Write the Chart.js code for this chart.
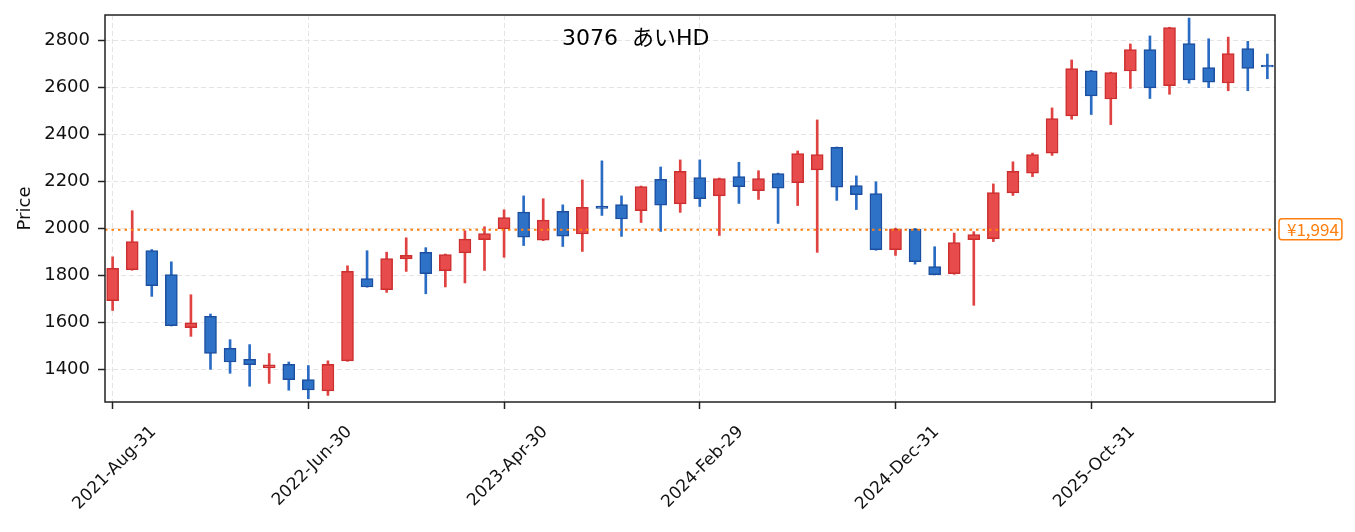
<!DOCTYPE html>
<html><head><meta charset="utf-8">
<script src="https://cdn.jsdelivr.net/npm/chart.js@4.4.1/dist/chart.umd.min.js"></script>
<style>html,body{margin:0;padding:0;background:#fff;}#wrap{width:1355px;height:532px;}</style>
</head><body><div id="wrap"><canvas id="c" width="1355" height="532"></canvas></div>
<script>
const dates = [
 '2021-Aug-31','2021-Sep-30','2021-Oct-31','2021-Nov-30','2021-Dec-31',
 '2022-Jan-31','2022-Feb-28','2022-Mar-31','2022-Apr-30','2022-May-31','2022-Jun-30','2022-Jul-31','2022-Aug-31','2022-Sep-30','2022-Oct-31','2022-Nov-30','2022-Dec-31',
 '2023-Jan-31','2023-Feb-28','2023-Mar-31','2023-Apr-30','2023-May-31','2023-Jun-30','2023-Jul-31','2023-Aug-31','2023-Sep-30','2023-Oct-31','2023-Nov-30','2023-Dec-31',
 '2024-Jan-31','2024-Feb-29','2024-Mar-31','2024-Apr-30','2024-May-31','2024-Jun-30','2024-Jul-31','2024-Aug-31','2024-Sep-30','2024-Oct-31','2024-Nov-30','2024-Dec-31',
 '2025-Jan-31','2025-Feb-28','2025-Mar-31','2025-Apr-30','2025-May-31','2025-Jun-30','2025-Jul-31','2025-Aug-31','2025-Sep-30','2025-Oct-31','2025-Nov-30','2025-Dec-31',
 '2026-Jan-31','2026-Feb-28','2026-Mar-31','2026-Apr-30','2026-May-31','2026-Jun-30','2026-Jul-31'
];
const opens  = [1693,1824,1906,1804,1578,1626,1490,1443,1407,1422,1357,1309,1437,1787,1739,1870,1898,1820,1896,1952,1998,2069,1950,2073,1976,2095,2101,2075,2208,2104,2216,2138,2220,2160,2233,2194,2249,2344,2182,2148,1909,1997,1838,1807,1952,1956,2151,2235,2320,2478,2670,2550,2669,2760,2607,2785,2683,2618,2764,2694];
const highs  = [1879,2075,1910,1858,1718,1636,1527,1506,1468,1432,1417,1437,1841,1905,1899,1960,1918,1891,1990,2007,2079,2138,2126,2100,2206,2287,2138,2180,2261,2291,2291,2214,2281,2245,2235,2329,2461,2346,2223,2198,2001,2000,1922,1980,1986,2189,2283,2320,2512,2716,2672,2664,2784,2818,2855,2894,2806,2813,2795,2741];
const lows   = [1651,1822,1711,1585,1541,1401,1384,1329,1341,1312,1276,1290,1435,1750,1728,1817,1722,1751,1768,1821,1877,1927,1948,1923,1902,2055,1966,2025,1987,2068,2093,1970,2106,2123,2021,2097,1898,2119,2080,1907,1885,1848,1802,1805,1673,1944,2140,2220,2310,2464,2484,2441,2595,2552,2570,2617,2598,2585,2585,2636];
const closes = [1830,1944,1756,1586,1598,1468,1432,1421,1420,1357,1313,1422,1817,1751,1872,1885,1807,1889,1954,1978,2046,1963,2035,1967,2090,2085,2040,2178,2099,2242,2126,2212,2177,2212,2171,2318,2314,2175,2143,1909,1997,1858,1803,1940,1974,2152,2242,2314,2467,2679,2563,2662,2760,2597,2853,2631,2622,2743,2680,2686];
const refPrice = 1994;
const refLabel = '¥1,994';
const titleText = '3076  あいHD';
const yAxisTitle = 'Price';
const xTickIdx = [0,10,20,30,40,50];
const yTickVals = [1400,1600,1800,2000,2200,2400,2600,2800];

const UP_FILL = '#e84b4b', UP_EDGE = '#cc2f2f', UP_WICK = '#e04242';
const DN_FILL = '#2e72c8', DN_EDGE = '#1c4f9f', DN_WICK = '#2a6cc4';
const isUp = i => closes[i] >= opens[i];

const X_MIN = -0.39, X_MAX = 59.39;
const FONT = "'DejaVu Sans','Noto Sans CJK JP',sans-serif";

const bodyData = opens.map((o,i)=>({x:i, y:[o, closes[i]]}));
const wickData = lows.map((l,i)=>({x:i, y:[l, highs[i]]}));

const framePlugin = {
  id:'frame',
  afterDraw(chart){
    const {ctx, chartArea:a} = chart;
    ctx.save();
    ctx.strokeStyle = '#222'; ctx.lineWidth = 1.5;
    ctx.strokeRect(a.left, a.top, a.right-a.left, a.bottom-a.top);
    // title
    ctx.fillStyle = '#000';
    ctx.font = "22px " + FONT;
    ctx.textBaseline = 'middle'; ctx.textAlign = 'left';
    ctx.fillText(titleText, 562, chart.scales.y.getPixelForValue(2800) - 1);
    // ref price label
    const y = chart.scales.y.getPixelForValue(refPrice);
    ctx.font = "17px 'Noto Sans CJK JP','DejaVu Sans',sans-serif";
    const w = ctx.measureText(refLabel).width;
    const bx = a.right + 4, bw = w + 11, bh = 21, by = y - bh/2 - 0.5;
    ctx.beginPath();
    ctx.roundRect(bx, by, bw, bh, 3);
    ctx.fillStyle = '#fff'; ctx.fill();
    ctx.strokeStyle = '#ff7f0e'; ctx.lineWidth = 1.5; ctx.stroke();
    ctx.fillStyle = '#ff7f0e'; ctx.textAlign = 'left'; ctx.textBaseline = 'middle';
    ctx.fillText(refLabel, bx + 8, y);
    ctx.restore();
  }
};

new Chart(document.getElementById('c'), {
  data: {
    datasets: [
      { type:'line', data:[{x:X_MIN,y:refPrice},{x:X_MAX,y:refPrice}], borderColor:'#ff7f0e', borderWidth:2,
        borderDash:[2.5,4], pointRadius:0, order:-1 },
      { type:'bar', data: bodyData, grouped:false, barThickness:12, borderWidth:1.5, borderSkipped:false,
        backgroundColor: bodyData.map((d,i)=> isUp(i)?UP_FILL:DN_FILL),
        borderColor: bodyData.map((d,i)=> isUp(i)?UP_EDGE:DN_EDGE), order:0 },
      { type:'bar', data: wickData, grouped:false, barThickness:2, borderWidth:0,
        backgroundColor: wickData.map((d,i)=> isUp(i)?UP_WICK:DN_WICK), order:1 }
    ]
  },
  options: {
    responsive:false, animation:false,
    layout:{ padding:{ left:0, top:15, right:80, bottom:0 } },
    plugins:{ legend:{display:false}, tooltip:{enabled:false} },
    scales:{
      x:{ type:'linear', min:X_MIN, max:X_MAX, offset:false,
        afterBuildTicks: s => { s.ticks = xTickIdx.map(v=>({value:v})); },
        afterFit: s => { s.height = 130; s.paddingLeft = 0; s.paddingRight = 0; },
        ticks:{ autoSkip:false, minRotation:45, maxRotation:45, labelOffset:41, padding:13,
          color:'#111', font:{family:FONT, size:17},
          callback: v => dates[v] ?? '' },
        grid:{ offset:false, color:'#e4e4e4', lineWidth:1, tickColor:'#222', tickWidth:1.5, tickLength:7, tickBorderDash:[] },
        border:{ display:false, dash:[5,3] }
      },
      y:{ type:'linear', min:1262, max:2907,
        afterBuildTicks: s => { s.ticks = yTickVals.map(v=>({value:v})); },
        afterFit: s => { s.width = 105; s.paddingTop = 0; s.paddingBottom = 0; },
        ticks:{ padding:8, color:'#111', font:{family:FONT, size:18}, callback: v => String(v) },
        title:{ display:true, text:yAxisTitle, color:'#111', font:{family:FONT, size:18}, padding:{top:14.5, bottom:0} },
        grid:{ color:'#e4e4e4', lineWidth:1, tickColor:'#222', tickWidth:1.5, tickLength:7, tickBorderDash:[] },
        border:{ display:false, dash:[5,3] }
      }
    }
  },
  plugins:[framePlugin]
});
</script></body></html>
